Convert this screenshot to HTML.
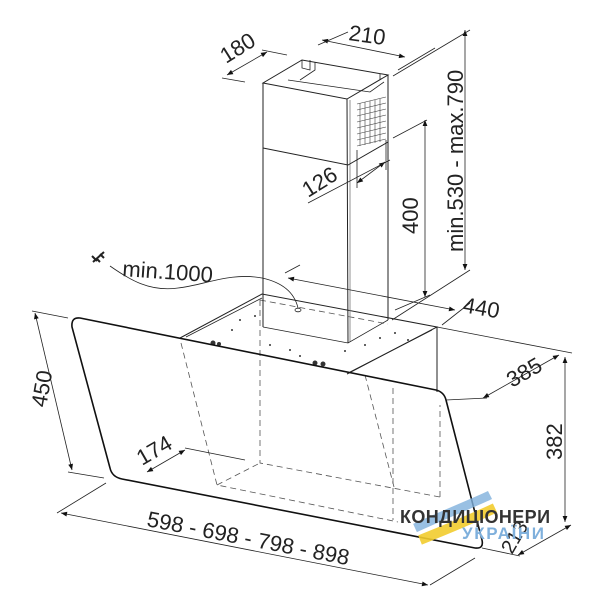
<!DOCTYPE html>
<html><head><meta charset="utf-8"><style>
html,body{margin:0;padding:0;background:#fff}
svg{display:block}
text{font-family:"Liberation Sans",sans-serif;fill:#222}
</style></head><body>
<svg width="600" height="600" viewBox="0 0 600 600" xmlns="http://www.w3.org/2000/svg">
<defs>
<marker id="a" viewBox="0 0 10 10" refX="10" refY="5" markerWidth="11" markerHeight="6" orient="auto-start-reverse" markerUnits="userSpaceOnUse"><path d="M0,1 L10,5 L0,9 z" fill="#111"/></marker>
</defs>
<g stroke="#222" stroke-width="0.8" fill="none">
<g stroke-dasharray="6,4" stroke="#555">
<path d="M181,343 L217,485 L398,522"/>
<path d="M260,300 L260,463 L440,497"/>
<path d="M217,485 L260,463"/>
<path d="M393,388 L393,520"/>
<path d="M365,375 L394,487"/>
<path d="M260,300 L388,324"/>
<path d="M440,497 L440,405"/>
</g>
<path d="M180,338 L262,294 L437,327 L347,374" stroke-width="1"/>
<path d="M437,327 L437,392" stroke-width="1"/>
<path d="M186,337 L262,298"/>
<path d="M350,372 L432,330"/>
<g fill="#333" stroke="none">
<circle cx="213" cy="343" r="2.5"/><circle cx="219" cy="344" r="2"/><circle cx="315" cy="363" r="2.5"/><circle cx="323" cy="364" r="2.5"/>
<circle cx="240" cy="320" r="1"/><circle cx="255" cy="316" r="1"/><circle cx="270" cy="345" r="1"/><circle cx="290" cy="350" r="1"/><circle cx="300" cy="356" r="1"/>
<circle cx="345" cy="351" r="1"/><circle cx="365" cy="345" r="1"/><circle cx="380" cy="338" r="1"/><circle cx="395" cy="333" r="1"/><circle cx="408" cy="340" r="1"/><circle cx="232" cy="330" r="1"/>
</g>
<path d="M263,83 L347,99 L388,75 L302,60 Z" stroke-width="1"/>
<path d="M263,83 L263,327 M347,99 L348,343 M388,75 L388,320" stroke-width="1"/>
<path d="M350,100 L350,342" stroke="#777"/>
<path d="M263,327 L348,343 L388,320" />
<path d="M263,148 L348,165 L388,142" stroke-width="1"/>
<path d="M302,60 L302,68 L310,70 L310,60 M315,62 L315,70 L300,80 M380,74 L380,80" />
<path d="M288,80 L370,92 L384,82"/>
<g stroke="#444" stroke-width="0.6">
<path d="M357,104 L386,97 M357,110 L386,103 M357,116 L386,109 M357,122 L386,115 M357,128 L386,121 M357,134 L386,127 M357,140 L386,133 M357,146 L386,139"/>
<path d="M360,103 L360,146 M365,102 L365,145 M370,101 L370,144 M375,100 L375,143 M380,99 L380,142"/>
</g>
<path d="M80,318 L436,390 Q444,392 446,400 L482,540 Q484,549 475,548 L122,479 Q112,477 110,468 L72,327 Q71,317 80,318 Z" stroke="#111" stroke-width="1.6"/>
<path d="M110,266 C130,280 150,292 178,288 C205,285 230,272 262,278 C285,283 295,295 298,308" />
<ellipse cx="298" cy="310" rx="3" ry="1.8"/>
<path d="M93,262 L104,252 M96,258 L100,262 M100,254 L104,258 M92,256 L97,261" stroke-width="2"/>
<path d="M227,75 L267,52" marker-start="url(#a)" marker-end="url(#a)"/>
<path d="M222,78 L245,82 M262,50 L287,55"/>
<path d="M322,40 L405,57" marker-start="url(#a)" marker-end="url(#a)"/>
<path d="M318,45 L348,32 M398,70 L435,48"/>
<path d="M357,183 L385,162" marker-start="url(#a)" marker-end="url(#a)"/>
<path d="M308,203 L390,160 M357,150 L357,188 M386,140 L386,170"/>
<path d="M425,120 L425,297" marker-start="url(#a)" marker-end="url(#a)"/>
<path d="M393,138 L427,120 M395,310 L430,295"/>
<path d="M465,30 L465,270" marker-start="url(#a)" marker-end="url(#a)"/>
<path d="M393,76 L470,30 M392,320 L470,270"/>
<path d="M288,278 L455,310" marker-start="url(#a)" marker-end="url(#a)"/>
<path d="M285,273 L300,265 M442,325 L470,303"/>
<path d="M483,398 L559,355" marker-start="url(#a)" marker-end="url(#a)"/>
<path d="M437,327 L572,353 M446,400 L487,398"/>
<path d="M565,357 L565,522" marker-start="url(#a)" marker-end="url(#a)"/>
<path d="M518,555 L571,525" marker-start="url(#a)" marker-end="url(#a)"/>
<path d="M482,548 L520,556"/>
<path d="M35,313 L72,470" marker-start="url(#a)" marker-end="url(#a)"/>
<path d="M32,311 L68,318 M68,472 L104,478"/>
<path d="M61,513 L428,585" marker-start="url(#a)" marker-end="url(#a)"/>
<path d="M57,513 L106,483 M430,585 L475,558"/>
<path d="M147,472 L185,450" marker-start="url(#a)" marker-end="url(#a)"/>
<path d="M185,448 L245,460"/>
</g>
<g font-size="22">
<text transform="translate(226,64) rotate(-32)">180</text>
<text transform="translate(348,40) rotate(8)">210</text>
<text transform="translate(308,198) rotate(-32)">126</text>
<text transform="translate(418,234) rotate(-90)">400</text>
<text transform="translate(463,252) rotate(-90)">min.530 - max.790</text>
<text transform="translate(462,312) rotate(10)">440</text>
<text transform="translate(122,276) rotate(4)">min.1000</text>
<text transform="translate(512,388) rotate(-30)">385</text>
<text transform="translate(562,460) rotate(-90)">382</text>
<text transform="translate(46,408) rotate(-80)">450</text>
<text transform="translate(142,466) rotate(-30)">174</text>
<text transform="translate(146,526) rotate(11)">598 - 698 - 798 - 898</text>
<text font-size="20" transform="translate(512,555) rotate(-60)">213</text>
</g>
<path d="M415,528 C450,512 480,500 490,495" stroke="#7fb0dc" stroke-width="9" fill="none" opacity="0.8"/>
<path d="M420,540 C450,528 480,515 495,508" stroke="#f2cc2e" stroke-width="10" fill="none" opacity="0.9"/>
<text x="400" y="523" font-size="18" font-weight="bold" textLength="150" style="fill:#333">КОНДИЦІОНЕРИ</text>
<text x="462" y="539" font-size="17" font-weight="bold" textLength="82" style="fill:#7fb0dc">УКРАЇНИ</text>
</svg>
</body></html>
